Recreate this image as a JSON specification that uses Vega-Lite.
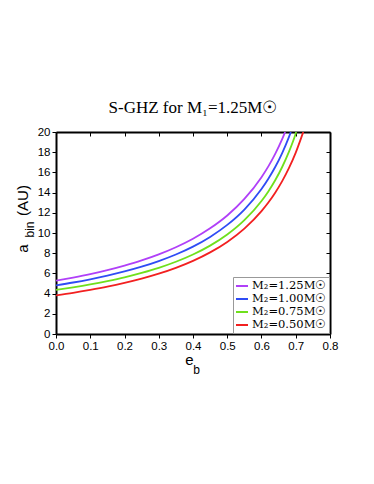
{
"$schema": "https://vega.github.io/schema/vega-lite/v6.json",
"autosize": "none",
"width": 274,
"height": 202,
"padding": {"left": 56, "top": 132, "right": 44, "bottom": 150},
"background": "white",
"title": {"text": "S-GHZ for M₁=1.25M☉", "font": "Liberation Serif", "fontSize": 17, "fontWeight": "normal", "color": "black", "offset": 9, "anchor": "middle"},
"config": {
  "view": {"stroke": null},
  "axis": {"labelFont": "Liberation Sans", "labelFontSize": 11.5, "labelColor": "black", "titleFont": "Liberation Sans", "titleFontSize": 15, "titleColor": "black", "titleFontWeight": "normal", "domainColor": "black", "domainWidth": 2, "tickColor": "black", "tickWidth": 1, "tickSize": 4, "labelPadding": 2, "grid": false, "labelOverlap": false, "labelBound": false, "labelFlush": false}
},
"data": {"values": [
{"e":0,"a":5.28,"s":"M₂=1.25M☉"},{"e":0.05,"a":5.59,"s":"M₂=1.25M☉"},{"e":0.1,"a":5.93,"s":"M₂=1.25M☉"},{"e":0.15,"a":6.32,"s":"M₂=1.25M☉"},{"e":0.2,"a":6.77,"s":"M₂=1.25M☉"},{"e":0.25,"a":7.28,"s":"M₂=1.25M☉"},{"e":0.3,"a":7.88,"s":"M₂=1.25M☉"},{"e":0.35,"a":8.59,"s":"M₂=1.25M☉"},{"e":0.4,"a":9.43,"s":"M₂=1.25M☉"},{"e":0.45,"a":10.46,"s":"M₂=1.25M☉"},{"e":0.5,"a":11.73,"s":"M₂=1.25M☉"},{"e":0.55,"a":13.37,"s":"M₂=1.25M☉"},{"e":0.6,"a":15.53,"s":"M₂=1.25M☉"},{"e":0.62,"a":16.6,"s":"M₂=1.25M☉"},{"e":0.64,"a":17.84,"s":"M₂=1.25M☉"},{"e":0.66,"a":19.27,"s":"M₂=1.25M☉"},{"e":0.669,"a":20,"s":"M₂=1.25M☉"},
{"e":0,"a":4.82,"s":"M₂=1.00M☉"},{"e":0.05,"a":5.1,"s":"M₂=1.00M☉"},{"e":0.1,"a":5.42,"s":"M₂=1.00M☉"},{"e":0.15,"a":5.78,"s":"M₂=1.00M☉"},{"e":0.2,"a":6.19,"s":"M₂=1.00M☉"},{"e":0.25,"a":6.66,"s":"M₂=1.00M☉"},{"e":0.3,"a":7.22,"s":"M₂=1.00M☉"},{"e":0.35,"a":7.87,"s":"M₂=1.00M☉"},{"e":0.4,"a":8.65,"s":"M₂=1.00M☉"},{"e":0.45,"a":9.61,"s":"M₂=1.00M☉"},{"e":0.5,"a":10.8,"s":"M₂=1.00M☉"},{"e":0.55,"a":12.32,"s":"M₂=1.00M☉"},{"e":0.6,"a":14.35,"s":"M₂=1.00M☉"},{"e":0.62,"a":15.37,"s":"M₂=1.00M☉"},{"e":0.64,"a":16.53,"s":"M₂=1.00M☉"},{"e":0.66,"a":17.89,"s":"M₂=1.00M☉"},{"e":0.68,"a":19.5,"s":"M₂=1.00M☉"},{"e":0.6856,"a":20,"s":"M₂=1.00M☉"},
{"e":0,"a":4.36,"s":"M₂=0.75M☉"},{"e":0.05,"a":4.62,"s":"M₂=0.75M☉"},{"e":0.1,"a":4.91,"s":"M₂=0.75M☉"},{"e":0.15,"a":5.24,"s":"M₂=0.75M☉"},{"e":0.2,"a":5.61,"s":"M₂=0.75M☉"},{"e":0.25,"a":6.05,"s":"M₂=0.75M☉"},{"e":0.3,"a":6.55,"s":"M₂=0.75M☉"},{"e":0.35,"a":7.15,"s":"M₂=0.75M☉"},{"e":0.4,"a":7.87,"s":"M₂=0.75M☉"},{"e":0.45,"a":8.75,"s":"M₂=0.75M☉"},{"e":0.5,"a":9.85,"s":"M₂=0.75M☉"},{"e":0.55,"a":11.27,"s":"M₂=0.75M☉"},{"e":0.6,"a":13.17,"s":"M₂=0.75M☉"},{"e":0.62,"a":14.12,"s":"M₂=0.75M☉"},{"e":0.64,"a":15.22,"s":"M₂=0.75M☉"},{"e":0.66,"a":16.51,"s":"M₂=0.75M☉"},{"e":0.68,"a":18.03,"s":"M₂=0.75M☉"},{"e":0.7,"a":19.86,"s":"M₂=0.75M☉"},{"e":0.7013,"a":20,"s":"M₂=0.75M☉"},
{"e":0,"a":3.83,"s":"M₂=0.50M☉"},{"e":0.05,"a":4.08,"s":"M₂=0.50M☉"},{"e":0.1,"a":4.37,"s":"M₂=0.50M☉"},{"e":0.15,"a":4.69,"s":"M₂=0.50M☉"},{"e":0.2,"a":5.06,"s":"M₂=0.50M☉"},{"e":0.25,"a":5.48,"s":"M₂=0.50M☉"},{"e":0.3,"a":5.97,"s":"M₂=0.50M☉"},{"e":0.35,"a":6.55,"s":"M₂=0.50M☉"},{"e":0.4,"a":7.24,"s":"M₂=0.50M☉"},{"e":0.45,"a":8.08,"s":"M₂=0.50M☉"},{"e":0.5,"a":9.12,"s":"M₂=0.50M☉"},{"e":0.55,"a":10.44,"s":"M₂=0.50M☉"},{"e":0.6,"a":12.17,"s":"M₂=0.50M☉"},{"e":0.62,"a":13.02,"s":"M₂=0.50M☉"},{"e":0.64,"a":13.99,"s":"M₂=0.50M☉"},{"e":0.66,"a":15.11,"s":"M₂=0.50M☉"},{"e":0.68,"a":16.42,"s":"M₂=0.50M☉"},{"e":0.7,"a":17.96,"s":"M₂=0.50M☉"},{"e":0.72,"a":19.81,"s":"M₂=0.50M☉"},{"e":0.722,"a":20,"s":"M₂=0.50M☉"}
]},
"layer": [
  {
    "mark": {"type": "line", "strokeWidth": 1.8, "interpolate": "monotone", "clip": true},
    "encoding": {
      "x": {"field": "e", "type": "quantitative", "scale": {"domain": [0, 0.8], "nice": false, "zero": false},
        "axis": {"orient": "bottom", "values": [0,0.1,0.2,0.3,0.4,0.5,0.6,0.7,0.8], "format": ".1f", "title": "e", "titleX": 133, "titleY": 30, "titleBaseline": "alphabetic", "titleAlign": "center"}},
      "y": {"field": "a", "type": "quantitative", "scale": {"domain": [0, 20], "nice": false},
        "axis": {"orient": "left", "values": [0,2,4,6,8,10,12,14,16,18,20], "format": "d", "title": "a", "titleX": -29, "titleY": 116, "titleAngle": -90, "titleBaseline": "alphabetic", "titleAlign": "center"}},
      "color": {"field": "s", "type": "nominal",
        "scale": {"domain": ["M₂=1.25M☉","M₂=1.00M☉","M₂=0.75M☉","M₂=0.50M☉"], "range": ["#b040f8","#2f4cf5","#6fe01c","#f22020"]},
        "legend": {"orient": "bottom-right", "title": null, "offset": 1, "strokeColor": "#999999", "fillColor": "white", "padding": 2, "labelFont": "DejaVu Serif", "labelFontSize": 11.5, "labelColor": "black", "symbolType": "stroke", "symbolStrokeWidth": 2, "symbolSize": 144, "rowPadding": -1, "labelOffset": 3}}
    }
  },
  {
    "mark": {"type": "line", "opacity": 0},
    "encoding": {
      "x": {"field": "e", "type": "quantitative", "scale": {"domain": [0, 0.8], "nice": false, "zero": false},
        "axis": {"orient": "top", "values": [0,0.1,0.2,0.3,0.4,0.5,0.6,0.7,0.8], "labels": false, "tickSize": -4, "title": null}},
      "y": {"field": "a", "type": "quantitative", "scale": {"domain": [0, 20], "nice": false},
        "axis": {"orient": "right", "values": [0,2,4,6,8,10,12,14,16,18,20], "labels": false, "tickSize": -4, "title": null}}
    }
  },
  {
    "mark": {"type": "line", "opacity": 0},
    "encoding": {
      "x": {"field": "e", "type": "quantitative", "scale": {"domain": [0, 0.8], "nice": false, "zero": false},
        "axis": {"orient": "bottom", "labels": false, "ticks": false, "domain": false, "title": "b", "titleFontSize": 12, "titleX": 140, "titleY": 39, "titleBaseline": "alphabetic", "titleAlign": "center"}},
      "y": {"field": "a", "type": "quantitative", "scale": {"domain": [0, 20], "nice": false},
        "axis": {"orient": "left", "labels": false, "ticks": false, "domain": false, "title": "bin", "titleFontSize": 12, "titleX": -23, "titleY": 97, "titleAngle": -90, "titleBaseline": "alphabetic", "titleAlign": "center"}}
    }
  },
  {
    "mark": {"type": "line", "opacity": 0},
    "encoding": {
      "x": {"field": "e", "type": "quantitative", "scale": {"domain": [0, 0.8], "nice": false, "zero": false}, "axis": null},
      "y": {"field": "a", "type": "quantitative", "scale": {"domain": [0, 20], "nice": false},
        "axis": {"orient": "left", "labels": false, "ticks": false, "domain": false, "title": "(AU)", "titleX": -29, "titleY": 68, "titleAngle": -90, "titleBaseline": "alphabetic", "titleAlign": "center"}}
    }
  }
],
"resolve": {"axis": {"x": "independent", "y": "independent"}}
}
